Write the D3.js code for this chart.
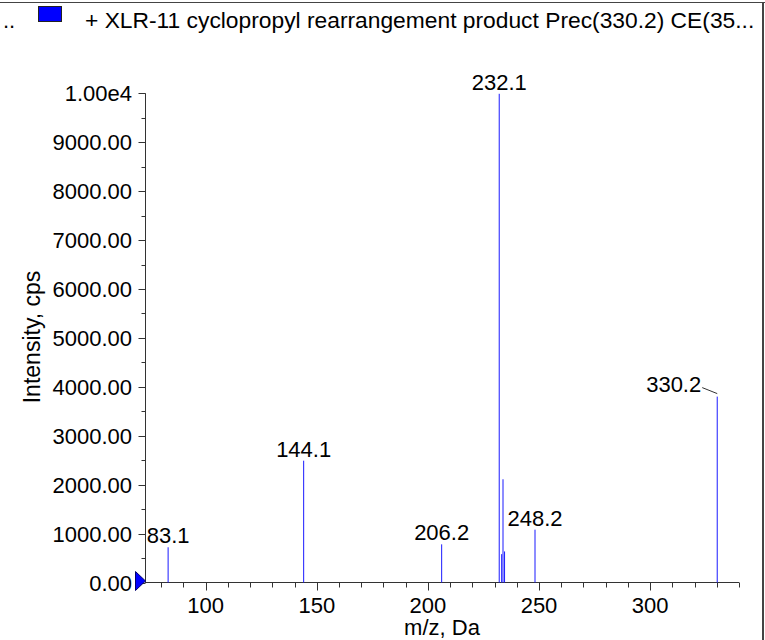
<!DOCTYPE html>
<html>
<head>
<meta charset="utf-8">
<script src="https://d3js.org/d3.v7.min.js"></script>
<style>
body {margin: 0; background: white;}
svg text {font-family: "Liberation Sans", Arial, sans-serif; font-size: 22px; fill: black;}
.axis line, .axis path {stroke: #333;}
</style>
</head>
<body>
<svg width=765 height=640></svg>
<script>
// peaks
var mz        = [83.1, 144.1, 206.2, 232.1, 233.2, 233.8, 234.5, 248.2, 330.2];
var intensity = [720, 2490, 780, 9990, 580, 2110, 635, 1080, 3800];
var peakLabels = ["83.1", "144.1", "206.2", "232.1", "", "", "", "248.2", "330.2"];

var xTicks = [100, 150, 200, 250, 300];
var yTicks = [0, 1000, 2000, 3000, 4000, 5000, 6000, 7000, 8000, 9000, 10000];
var yTickLabels = ["0.00", "1000.00", "2000.00", "3000.00", "4000.00", "5000.00",
                   "6000.00", "7000.00", "8000.00", "9000.00", "1.00e4"];

var title = "+ XLR-11 cyclopropyl rearrangement product Prec(330.2) CE(35...";

var svg = d3.select("svg");

var x = d3.scaleLinear().domain([72.7, 340]).range([145, 739]);
var y = d3.scaleLinear().domain([0, 10000]).range([582.5, 93.3]);

// frame
svg.append("line").attr("x1", 0).attr("x2", 765).attr("y1", 2.5).attr("y2", 2.5)
  .attr("stroke", "#444").attr("stroke-width", 1);
svg.append("rect").attr("x", 762).attr("y", 2).attr("width", 2).attr("height", 638)
  .attr("fill", "#444");

// legend / title row
svg.append("text").attr("x", 3).attr("y", 28).text("..");
svg.append("rect").attr("x", 38.5).attr("y", 6.5).attr("width", 23).attr("height", 15)
  .attr("fill", "#0000ff").attr("stroke", "#222").attr("stroke-width", 1);
svg.append("text").attr("x", 85).attr("y", 28).style("font-size", "22.8px").text(title);

// y axis
var yMinor = d3.range(500, 10000, 1000);
var ya = svg.append("g").attr("class", "axis");
ya.append("line").attr("x1", 145.5).attr("x2", 145.5).attr("y1", y(10000)).attr("y2", y(0));
ya.selectAll(".maj").data(yTicks).enter().append("line")
  .attr("x1", 138.5).attr("x2", 145.5)
  .attr("y1", function(d) {return Math.round(y(d)) + 0.5;})
  .attr("y2", function(d) {return Math.round(y(d)) + 0.5;});
ya.selectAll(".min").data(yMinor).enter().append("line")
  .attr("x1", 141.5).attr("x2", 145.5)
  .attr("y1", function(d) {return Math.round(y(d)) + 0.5;})
  .attr("y2", function(d) {return Math.round(y(d)) + 0.5;});
ya.selectAll("text").data(yTicks).enter().append("text")
  .attr("x", 132).attr("y", function(d) {return y(d) + 8;})
  .attr("text-anchor", "end")
  .text(function(d, i) {return yTickLabels[i];});

// x axis
var xMinor = d3.range(80, 341, 10).filter(function(d) {return d % 50 != 0;});
var xa = svg.append("g").attr("class", "axis");
xa.append("line").attr("x1", x.range()[0]).attr("x2", x.range()[1]).attr("y1", 582.5).attr("y2", 582.5);
xa.selectAll(".maj").data(xTicks).enter().append("line")
  .attr("x1", function(d) {return Math.round(x(d)) + 0.5;})
  .attr("x2", function(d) {return Math.round(x(d)) + 0.5;})
  .attr("y1", 582.5).attr("y2", 590.5);
xa.selectAll(".min").data(xMinor).enter().append("line")
  .attr("x1", function(d) {return Math.round(x(d)) + 0.5;})
  .attr("x2", function(d) {return Math.round(x(d)) + 0.5;})
  .attr("y1", 582.5).attr("y2", 587.5);
xa.selectAll("text").data(xTicks).enter().append("text")
  .attr("x", function(d) {return x(d);}).attr("y", 613)
  .attr("text-anchor", "middle")
  .text(function(d) {return d;});

// axis titles
svg.append("text").attr("x", 442).attr("y", 635).attr("text-anchor", "middle").text("m/z, Da");
svg.append("text").attr("transform", "translate(40,337) rotate(-90)")
  .attr("text-anchor", "middle").style("font-size", "23px").text("Intensity, cps");

// peaks
var peaks = mz.map(function(m, i) {return {mz: m, v: intensity[i], label: peakLabels[i]};});
svg.append("g").selectAll("line").data(peaks).enter().append("line")
  .attr("x1", function(d) {return x(d.mz);}).attr("x2", function(d) {return x(d.mz);})
  .attr("y1", y(0)).attr("y2", function(d) {return y(d.v);})
  .attr("stroke", "#1a1aff").attr("stroke-width", 1);

var lab = peaks.filter(function(d) {return d.label;});
var last = lab[lab.length - 1];
svg.append("g").selectAll("text").data(lab).enter().append("text")
  .attr("x", function(d) {return d === last ? x(d.mz) - 16 : x(d.mz);})
  .attr("y", function(d) {return d === last ? y(d.v) - 5 : y(d.v) - 4;})
  .attr("text-anchor", function(d) {return d === last ? "end" : "middle";})
  .text(function(d) {return d.label;});
// leader line for the offset label
svg.append("line")
  .attr("x1", x(last.mz) - 15).attr("y1", y(last.v) - 9)
  .attr("x2", x(last.mz)).attr("y2", y(last.v) - 3)
  .attr("stroke", "#333").attr("stroke-width", 1);

// origin marker
svg.append("path")
  .attr("d", "M" + (x(72.7) - 9.5) + "," + (y(0) - 11) + " L" + (x(72.7) + 0.5) + "," + (y(0) - 1.5) + " L" + (x(72.7) - 9.5) + "," + (y(0) + 8) + "Z")
  .attr("fill", "#0000ff").attr("stroke", "#00006a").attr("stroke-width", 1);
</script>
</body>
</html>
